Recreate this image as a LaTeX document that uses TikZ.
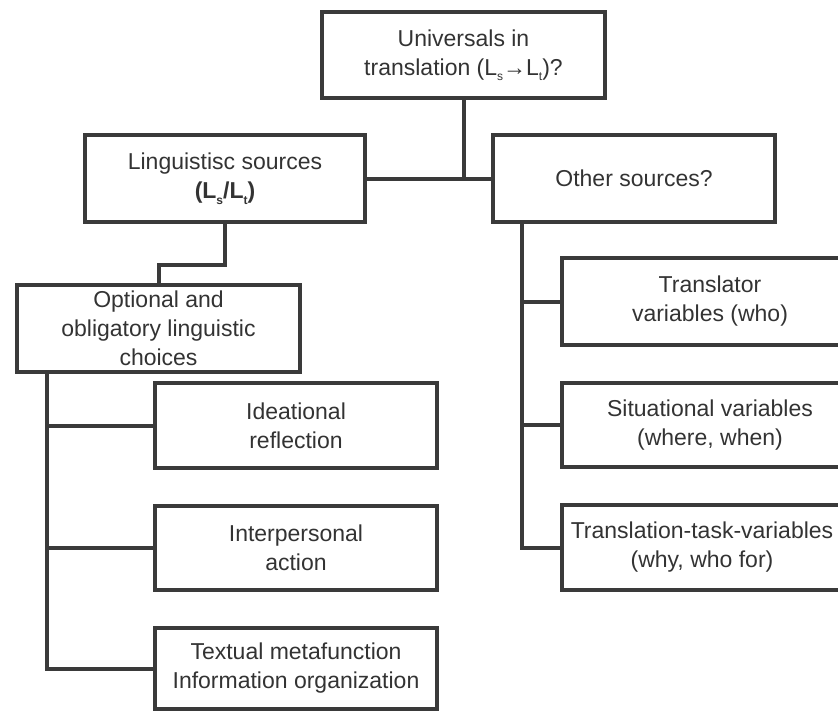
\documentclass[tikz,border=0pt]{standalone}
\usepackage{fontspec}
\setmainfont{Liberation Sans}
\usetikzlibrary{calc}
\definecolor{edgegray}{HTML}{3A3A3A}
\definecolor{inkgray}{HTML}{333333}
% small, low-set subscript for language labels
\newcommand\langsub[1]{\raisebox{-0.45ex}{\fontsize{12}{12}\selectfont #1}}
\begin{document}
\begin{tikzpicture}[x=1pt,y=-1pt,
  box/.style={draw=edgegray, line width=4pt, rectangle, inner sep=0pt,
    align=center, text=inkgray, font=\fontsize{23}{29}\selectfont},
  link/.style={draw=edgegray, line width=4pt, line join=miter}]
\useasboundingbox (0,0) rectangle (838,712);
\clip (0,0) rectangle (838,712);

% root and the two source branches
\node[box, minimum width=283pt, minimum height=86pt] (top) at (463.5,55)
  {Universals in\\ translation (L\langsub{s}→L\langsub{t})?};
\node[box, minimum width=280pt, minimum height=87pt] (ling) at (225,178.5)
  {Linguistisc sources\\ \textbf{(L\langsub{s}/L\langsub{t})}};
\node[box, minimum width=282pt, minimum height=87pt] (other) at (634,178.5)
  {Other sources?};

% linguistic choices and metafunctions
\node[box, minimum width=283pt, minimum height=87pt] (opt) at (158.5,328.5)
  {Optional and\\ obligatory linguistic\\ choices};
\node[box, minimum width=282pt, minimum height=85pt] (idea) at (296,425.5)
  {Ideational\\ reflection};
\node[box, minimum width=282pt, minimum height=84pt] (inter) at (296,548)
  {Interpersonal\\ action};
\node[box, minimum width=282pt, minimum height=81pt] (textual) at (296,668.5)
  {Textual metafunction\\ Information organization};

% other variables
\node[box, minimum width=296pt, minimum height=87pt] (transl) at (710,301.5)
  {Translator\\ variables (who)};
\node[box, minimum width=296pt, minimum height=84pt] (situ) at (710,425)
  {Situational variables\\ (where, when)};
\node[box, minimum width=280pt, minimum height=85pt] (task) at (702,547.5)
  {Translation-task-variables\\ (why, who for)};

% helper coordinates for elbows and trunks
\coordinate (elbow) at (0,265);
\coordinate (lt) at (47,0);
\coordinate (rt) at (522,0);

% root connectors
\draw[link] (ling.east) -- (other.west);
\draw[link] (top.south) -- (top.south |- ling.east);

% linguistic sources to choices
\draw[link] (ling.south) -- (ling.south |- elbow) -- (opt.north |- elbow) -- (opt.north);

% left trunk
\draw[link] (opt.south -| lt) |- (textual.west);
\draw[link] (lt |- idea.west) -- (idea.west);
\draw[link] (lt |- inter.west) -- (inter.west);

% right trunk
\draw[link] (other.south -| rt) |- (task.west);
\draw[link] (rt |- transl.west) -- (transl.west);
\draw[link] (rt |- situ.west) -- (situ.west);
\end{tikzpicture}
\end{document}
